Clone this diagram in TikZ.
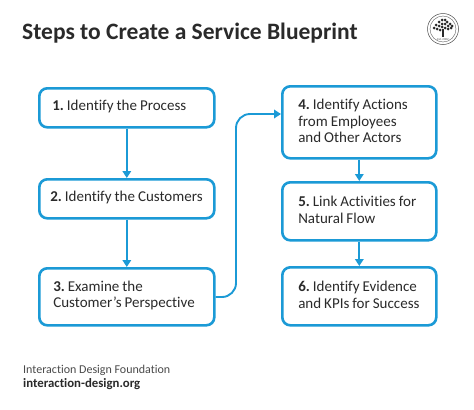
\documentclass[tikz,border=0pt]{standalone}
\usepackage{fontspec}
\setmainfont{Carlito}[Ligatures={TeX,NoCommon}]
\frenchspacing
\usetikzlibrary{arrows.meta,calc}
\definecolor{idfblue}{HTML}{1B9AD6}
\definecolor{idfink}{HTML}{2A2A2A}
\definecolor{idfgrey}{HTML}{4A4A4A}
\tikzset{x=1bp,y=-1bp,
  stepbox/.style={draw=idfblue,line width=2.6bp,rounded corners=8bp,fill=white,text=idfink,
    font=\fontsize{15bp}{16.7bp}\selectfont,inner xsep=0pt,inner ysep=0pt,anchor=north west},
  flow/.style={draw=idfblue,line width=1.9bp,-{Triangle[length=7bp,width=8.5bp]}},
  plain/.style={inner sep=0pt,anchor=base west}}
\newcommand{\boxat}[7]{\node[stepbox,minimum width=#3bp-#1bp,minimum height=#4bp-#2bp,text width=#3bp-#1bp,
  execute at begin node={\parindent=0pt\leftskip=#5bp\rightskip=0pt plus 1fil\spaceskip=3bp\relax}] (#6) at (#1,#2) {#7\vspace{2.5bp}};}
\begin{document}
\begin{tikzpicture}
\useasboundingbox (0,0) rectangle (474,409);
\fill[white] (0,0) rectangle (474,409);
\node[plain,text=idfink,font=\fontsize{23.5bp}{26bp}\selectfont\bfseries] (title) at (22,39) {Steps to Create a Service Blueprint};
% logo
\coordinate (logo) at (443,29);
\draw[idfgrey,line width=.5bp] (logo) circle (15.5);
\draw[idfgrey,line width=.35bp] (logo) circle (13);
\fill[idfink] (441.8,37) rectangle (444.2,29);
\foreach \dx/\dy in {-9/-1,-7/-4,-6/0,-4/-7,-4/-3,-3/1,-1/-9,-1/-5,-1/-2,2/-9,2/-5,2/-1,4/-7,5/-3,5/0,7/-5,8/-1,9/-3}
  \fill[idfink] ($(443,29)+(\dx,\dy)$) circle (1.5);
\node[inner sep=0pt,text=idfgrey,font=\fontsize{3bp}{3bp}\selectfont] (est) at (443,39.5) {Est. 2002};
% boxes
\boxat{38}{87}{213}{126}{13}{b1}{\textbf{1.} Identify the Process}
\boxat{38}{178}{213}{217}{11}{b2}{\textbf{2.} Identify the Customers}
\boxat{38}{267}{213}{324}{14}{b3}{\textbf{3.} Examine the\\Customer's Perspective}
\boxat{281}{85}{435}{157}{16}{b4}{\textbf{4.} Identify Actions\\from Employees\\and Other Actors}
\boxat{281}{181}{435}{239}{16}{b5}{\textbf{5.} Link Activities for\\Natural Flow}
\boxat{281}{266}{435}{324}{16}{b6}{\textbf{6.} Identify Evidence\\and KPIs for Success}
% connectors
\draw[flow] (b1) -- (b2);
\draw[flow] (b2) -- (b3);
\draw[flow] (b4) -- (b5);
\draw[flow] (b5) -- (b6);
\coordinate (c3) at (b3.east |- 236,297);
\coordinate (c4) at (b4.west |- 236,114);
\draw[flow,rounded corners=14bp] (c3) -- (236,297) -- (236,114) -- (c4);
% footer
\node[plain,text=idfgrey,font=\fontsize{12bp}{14bp}\selectfont] (f1) at (23,373) {Interaction Design Foundation};
\node[plain,text=idfink,font=\fontsize{12.8bp}{14bp}\selectfont\bfseries] (f2) at (23,387) {interaction-design.org};
\end{tikzpicture}
\end{document}
